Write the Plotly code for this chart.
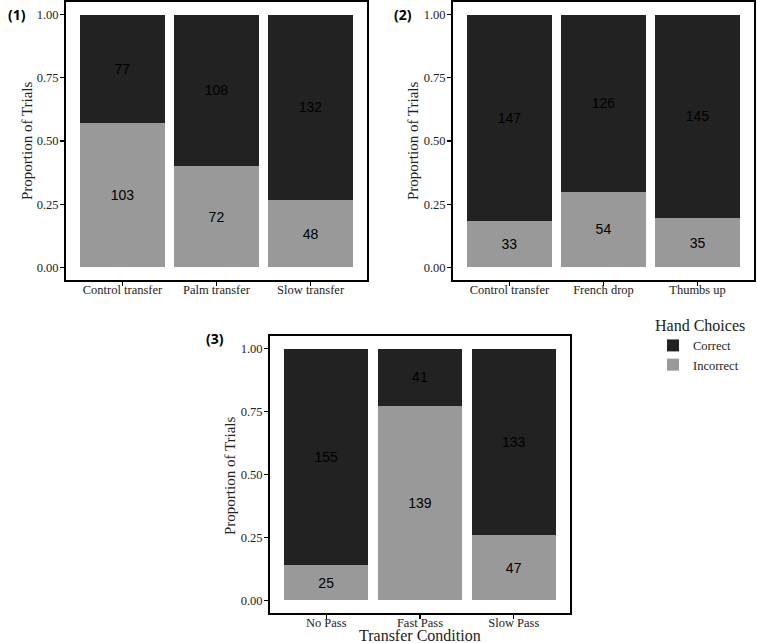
import plotly.graph_objects as go

W, H = 757, 643

cond1 = ["Control transfer", "Palm transfer", "Slow transfer"]
correct1 = [77, 108, 132]
incorrect1 = [103, 72, 48]

cond2 = ["Control transfer", "French drop", "Thumbs up"]
correct2 = [147, 126, 145]
incorrect2 = [33, 54, 35]

cond3 = ["No Pass", "Fast Pass", "Slow Pass"]
correct3 = [155, 41, 133]
incorrect3 = [25, 139, 47]

panels = [
    ("(1)", cond1, correct1, incorrect1),
    ("(2)", cond2, correct2, incorrect2),
    ("(3)", cond3, correct3, incorrect3),
]

DARK = "#222222"
GREY = "#999999"
SERIF = "Liberation Serif, Times New Roman, serif"
SANS = "Liberation Sans, Arial, sans-serif"

# panel pixel boxes: left, right, top, bottom
boxes = [(66, 367, 2, 280), (453, 754, 2, 280), (270, 570, 336, 613)]

fig = go.Figure()

for i, (lab, cats, cor, inc) in enumerate(panels):
    n = i + 1
    xa = "x" if n == 1 else f"x{n}"
    ya = "y" if n == 1 else f"y{n}"
    tot = [c + w for c, w in zip(cor, inc)]
    p_inc = [w / t for w, t in zip(inc, tot)]
    p_cor = [c / t for c, t in zip(cor, tot)]
    fig.add_trace(go.Bar(
        x=cats, y=p_inc, name="Incorrect", marker=dict(color=GREY, line=dict(width=0)),
        text=[str(v) for v in inc], textposition="inside", insidetextanchor="middle",
        textangle=0, constraintext="none",
        textfont=dict(color="black", size=14, family=SANS),
        width=0.9, xaxis=xa, yaxis=ya, legendgroup="inc", showlegend=(n == 1),
        legendrank=2, hoverinfo="skip"))
    fig.add_trace(go.Bar(
        x=cats, y=p_cor, name="Correct", marker=dict(color=DARK, line=dict(width=0)),
        text=[str(v) for v in cor], textposition="inside", insidetextanchor="middle",
        textangle=0, constraintext="none",
        textfont=dict(color="black", size=14, family=SANS),
        width=0.9, xaxis=xa, yaxis=ya, legendgroup="cor", showlegend=(n == 1),
        legendrank=1, hoverinfo="skip"))

    l, r, t, b = boxes[i]
    xdom = [l / W, r / W]
    ydom = [1 - b / H, 1 - t / H]
    xkey = "xaxis" if n == 1 else f"xaxis{n}"
    ykey = "yaxis" if n == 1 else f"yaxis{n}"
    xaxis = dict(domain=xdom, anchor=ya, range=[-0.6, 2.6], showline=True, mirror=True,
                 linecolor="black", linewidth=2, ticks="outside", ticklen=4, tickwidth=1.2,
                 tickcolor="black", showgrid=False, zeroline=False, automargin=False,
                 ticklabelstandoff=-7,
                 tickfont=dict(family=SERIF, size=12.5, color="#222"), fixedrange=True)
    yaxis = dict(domain=ydom, anchor=xa, range=[-0.05, 1.05], showline=True, mirror=True,
                 linecolor="black", linewidth=2, ticks="outside", ticklen=4, tickwidth=1.2,
                 tickcolor="black", showgrid=False, zeroline=False, automargin=False,
                 ticklabelstandoff=-1,
                 tickvals=[0, 0.25, 0.5, 0.75, 1.0], ticktext=["0.00", "0.25", "0.50", "0.75", "1.00"],
                 tickfont=dict(family=SERIF, size=12.5, color="#222"),
                 fixedrange=True)
    fig.update_layout(**{xkey: xaxis, ykey: yaxis})

# y-axis titles
ytitle_pos = [(27, 141), (413, 141), (230, 476)]
for px, py in ytitle_pos:
    fig.add_annotation(x=px / W, y=1 - py / H, xref="paper", yref="paper", text="Proportion of Trials",
                       showarrow=False, textangle=-90, xanchor="center", yanchor="middle",
                       font=dict(family=SERIF, size=15, color="#222"))
# x-axis title on panel 3
fig.add_annotation(x=420 / W, y=1 - 635 / H, xref="paper", yref="paper", text="Transfer Condition",
                   showarrow=False, xanchor="center", yanchor="middle",
                   font=dict(family=SERIF, size=16, color="#222"))

label_pos = [(6, 15), (392, 15), (204, 338)]
for (lab, *_), (px, py) in zip(panels, label_pos):
    fig.add_annotation(x=px / W, y=1 - py / H, xref="paper", yref="paper", text=f"<b>{lab}</b>",
                       showarrow=False, xanchor="left", yanchor="middle",
                       font=dict(family="Open Sans, Liberation Sans, sans-serif", size=14, color="black"))

fig.update_layout(
    width=W, height=H, margin=dict(l=0, r=0, t=0, b=0, autoexpand=False),
    paper_bgcolor="white", plot_bgcolor="white", barmode="stack", bargap=0.1,
    showlegend=True,
    legend=dict(x=653 / W, y=1 - 310 / H, xanchor="left", yanchor="top",
                title=dict(text="Hand Choices", font=dict(family=SERIF, size=16, color="#222")),
                font=dict(family=SERIF, size=12.5, color="#222"), bgcolor="rgba(0,0,0,0)",
                tracegroupgap=0, itemwidth=30),
)

fig.write_html("out.html", config={"displayModeBar": False, "staticPlot": True},
               post_script="document.body.style.margin='0';document.body.style.overflow='hidden';")
